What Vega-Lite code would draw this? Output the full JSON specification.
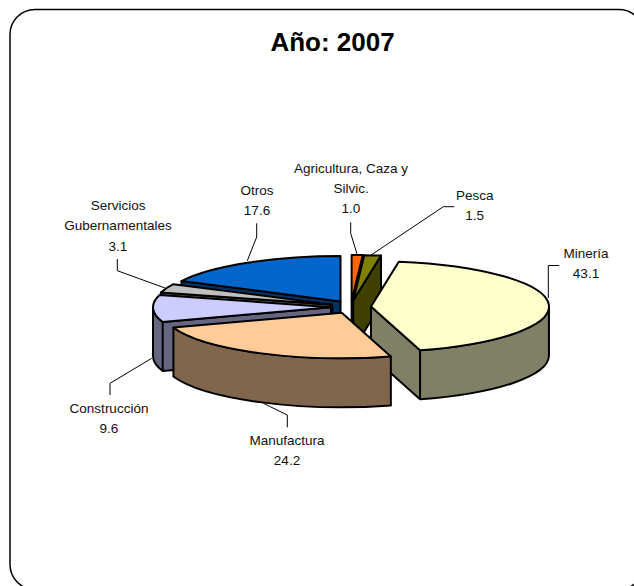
{
"$schema":"https://vega.github.io/schema/vega-lite/v6.json",
"width":634,"height":580,
"autosize":{"type":"none"},
"padding":{"left":10,"top":9.5,"right":0,"bottom":0},
"background":"white",
"view":{"stroke":"black","strokeWidth":1.5,"cornerRadius":25,"fill":"white"},
"title":{"text":"Año: 2007","font":"Liberation Sans","fontSize":26,"fontWeight":"bold","color":"black","anchor":"middle","frame":"group","offset":0,"dx":5.5,"dy":67.5,"baseline":"alphabetic"},
"params":[
{"name":"rx","value":178},{"name":"ry","value":45.5},{"name":"hond","value":49},
{"name":"pieX","value":24},{"name":"pieY","value":7.5},{"name":"expX","value":20},{"name":"expY","value":6.5}
],
"data":{"values":[
{"sector":"Agricultura, Caza y\nSilvic.","valor":1.0},
{"sector":"Pesca","valor":1.5},
{"sector":"Minería","valor":43.1},
{"sector":"Manufactura","valor":24.2},
{"sector":"Construcción","valor":9.6},
{"sector":"Servicios\nGubernamentales","valor":3.1},
{"sector":"Otros","valor":17.6}
]},
"transform":[
{"window":[{"op":"row_number","as":"n"}]},
{"stack":"valor","groupby":[],"sort":[{"field":"n","order":"ascending"}],"as":["a0","a1"]},
{"joinaggregate":[{"op":"sum","field":"valor","as":"total"}]},
{"calculate":"2*PI*datum.a0/datum.total","as":"t0"},
{"calculate":"2*PI*datum.a1/datum.total","as":"t1"},
{"calculate":"(datum.t0+datum.t1)/2","as":"tm"},
{"calculate":"round(100*(pieX+expX*sin(datum.tm)))/100","as":"ax"},
{"calculate":"round(100*(pieY-expY*cos(datum.tm)))/100","as":"ay"},
{"calculate":"round(100*(datum.ax+rx*sin(datum.t0)))/100","as":"sx"},
{"calculate":"round(100*(datum.ay-ry*cos(datum.t0)))/100","as":"sy"},
{"calculate":"round(100*(datum.ax+rx*sin(datum.t1)))/100","as":"fx"},
{"calculate":"round(100*(datum.ay-ry*cos(datum.t1)))/100","as":"fy"},
{"calculate":"max(datum.t0,PI/2)","as":"v0"},
{"calculate":"min(datum.t1,3*PI/2)","as":"v1"},
{"calculate":"round(100*(datum.ax+rx*sin(datum.v0)))/100","as":"p0x"},
{"calculate":"round(100*(datum.ay-ry*cos(datum.v0)))/100","as":"p0y"},
{"calculate":"round(100*(datum.ax+rx*sin(datum.v1)))/100","as":"p1x"},
{"calculate":"round(100*(datum.ay-ry*cos(datum.v1)))/100","as":"p1y"},
{"calculate":"'M'+datum.ax+' '+datum.ay+'L'+datum.sx+' '+datum.sy+'A'+rx+' '+ry+' 0 0 1 '+datum.fx+' '+datum.fy+'Z'","as":"tapa"},
{"calculate":"(datum.t0>PI?'M'+datum.ax+' '+datum.ay+'L'+datum.sx+' '+datum.sy+'L'+datum.sx+' '+(datum.sy+hond)+'L'+datum.ax+' '+(datum.ay+hond)+'Z':'')+(datum.t1<PI?'M'+datum.ax+' '+datum.ay+'L'+datum.fx+' '+datum.fy+'L'+datum.fx+' '+(datum.fy+hond)+'L'+datum.ax+' '+(datum.ay+hond)+'Z':'')+(datum.v0<datum.v1?'M'+datum.p0x+' '+datum.p0y+'A'+rx+' '+ry+' 0 0 1 '+datum.p1x+' '+datum.p1y+'L'+datum.p1x+' '+(datum.p1y+hond)+'A'+rx+' '+ry+' 0 0 0 '+datum.p0x+' '+(datum.p0y+hond)+'Z':'')","as":"lado"},
{"calculate":"indexof(['Otros','Agricultura, Caza y\\nSilvic.','Pesca','Minería','Servicios\\nGubernamentales','Construcción','Manufactura'],datum.sector)","as":"capa"},
{"calculate":"datum.sector+'\\n'+format(datum.valor,'.1f')","as":"etiqueta"},
{"calculate":"[341,464.7,576,277,99,108,247][datum.n-1]","as":"etqX"},
{"calculate":"[163.2,190.5,248.5,435.5,403.2,200.5,185.5][datum.n-1]","as":"etqY"}
],
"resolve":{"scale":{"fill":"independent","shape":"independent"}},
"layer":[
{"mark":{"type":"point","filled":false,"stroke":"black","strokeWidth":1,"opacity":1,"size":4},
 "encoding":{"shape":{"field":"sector","type":"nominal","legend":null,"scale":{
  "domain":["Agricultura, Caza y\nSilvic.","Pesca","Minería","Manufactura","Construcción","Servicios\nGubernamentales","Otros"],
  "range":["M23.7 -77.2L23.7 -66.2L30.3 -44.5","M127.3 -92.8L116.3 -92.8L43.7 -44.2","M232.3 -34L221.3 -34L221.3 -1.5","M-39.7 127.8L-39.7 115.5L-63.7 103.8","M-217 95.5L-217 83.8L-175.3 58.8","M-209.7 -40.5L-209.7 -28.8L-162 -11.5","M-70.3 -76.2L-70.3 -62.5L-79.7 -38.8"]}}}},
{"mark":{"type":"point","filled":true,"stroke":"black","strokeWidth":2,"opacity":1,"size":4,"strokeJoin":"round"},
 "encoding":{"shape":{"field":"lado","type":"nominal","scale":null},
 "order":{"field":"capa","type":"quantitative"},
 "fill":{"field":"sector","type":"nominal","legend":null,"scale":{
  "domain":["Agricultura, Caza y\nSilvic.","Pesca","Minería","Manufactura","Construcción","Servicios\nGubernamentales","Otros"],
  "range":["#803300","#404000","#808066","#80664D","#666680","#606060","#003366"]}}}},
{"mark":{"type":"point","filled":true,"stroke":"black","strokeWidth":2,"opacity":1,"size":4,"strokeJoin":"round"},
 "encoding":{"shape":{"field":"tapa","type":"nominal","scale":null},
 "order":{"field":"capa","type":"quantitative"},
 "fill":{"field":"sector","type":"nominal","legend":null,"scale":{
  "domain":["Agricultura, Caza y\nSilvic.","Pesca","Minería","Manufactura","Construcción","Servicios\nGubernamentales","Otros"],
  "range":["#FF6600","#808000","#FFFFCC","#FFCC99","#CCCCFF","#C0C0C0","#0066CC"]}}}},
{"mark":{"type":"text","font":"Liberation Sans","fontSize":13.5,"color":"#111111","align":"center","baseline":"alphabetic","lineBreak":"\n","lineHeight":20.3},
 "encoding":{"text":{"field":"etiqueta"},
 "x":{"field":"etqX","type":"quantitative","axis":null,"scale":null},
 "y":{"field":"etqY","type":"quantitative","axis":null,"scale":null}}}
]
}
